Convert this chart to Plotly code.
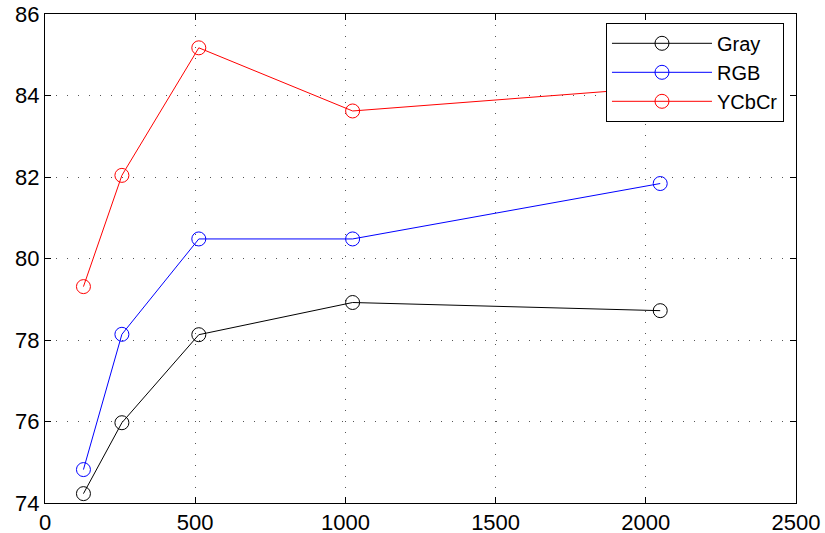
import plotly.graph_objects as go

x_vals = [128, 256, 512, 1024, 2048]
gray = [74.23, 75.97, 78.13, 78.92, 78.72]
rgb = [74.82, 78.14, 80.48, 80.48, 81.84]
ycbcr = [79.31, 82.04, 85.17, 83.62, 84.2]

x_ticks = [0, 500, 1000, 1500, 2000, 2500]
y_ticks = [74, 76, 78, 80, 82, 84, 86]

series = [("Gray", gray, "black"), ("RGB", rgb, "blue"), ("YCbCr", ycbcr, "red")]

fig = go.Figure()
for name, vals, col in series:
    fig.add_trace(go.Scatter(
        x=x_vals, y=vals, name=name, mode="lines+markers",
        line=dict(color=col, width=1),
        marker=dict(symbol="circle-open", size=14, color=col, line=dict(width=1, color=col)),
    ))

axis_common = dict(
    showline=True, linecolor="black", linewidth=1, mirror="allticks",
    ticks="inside", ticklen=6, tickcolor="black",
    showgrid=True, gridcolor="#555555", gridwidth=1, griddash="1px,10px",
    zeroline=False, automargin=False, ticklabeloverflow="allow",
    tickfont=dict(family="Liberation Sans, Arial", size=22, color="black"),
)

fig.update_xaxes(range=[0, 2500], tickvals=x_ticks, **axis_common)
fig.update_yaxes(range=[74, 86], tickvals=y_ticks, **axis_common)

fig.update_layout(
    width=825, height=533,
    margin=dict(l=45, r=29, t=14, b=30),
    plot_bgcolor="white", paper_bgcolor="white",
    showlegend=True,
    legend=dict(
        x=0.984, y=0.982, xanchor="right", yanchor="top",
        bgcolor="white", bordercolor="black", borderwidth=1,
        font=dict(family="Liberation Sans, Arial", size=20, color="black"),
        itemwidth=100, tracegroupgap=0,
    ),
)

fig.write_html(
    "out.html",
    config={"displayModeBar": False},
    post_script="document.body.style.margin='0';document.body.style.padding='0';",
)
